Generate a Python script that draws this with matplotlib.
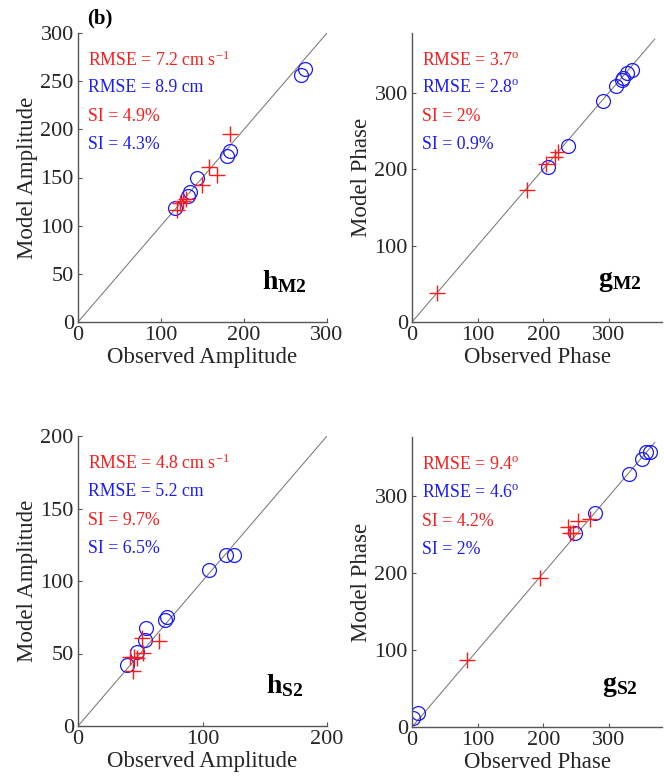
import numpy as np
import matplotlib
matplotlib.use('Agg')
import matplotlib.pyplot as plt

plt.rcParams['font.family'] = ['Liberation Serif', 'DejaVu Serif']
plt.rcParams['mathtext.fontset'] = 'custom'
plt.rcParams['mathtext.rm'] = 'Liberation Serif'
plt.rcParams['mathtext.bf'] = 'Liberation Serif:bold'
plt.rcParams['mathtext.it'] = 'Liberation Serif:italic'

# h_M2 : amplitude
hm2_red_obs = [123, 119, 127, 130, 149, 158, 167.5, 183]
hm2_red_mod = [124, 116, 126, 128, 142, 161, 153, 195]
hm2_blue_obs = [117, 132, 135, 143, 179, 183, 268.7, 273.5]
hm2_blue_mod = [118, 131, 135, 149, 172, 177, 256.5, 262.6]

# g_M2 : phase
gm2_red_obs = [38, 175.6, 204.6, 218, 223]
gm2_red_mod = [38, 172.5, 206.5, 216, 222]
gm2_blue_obs = [207.6, 238, 291.6, 311, 320, 322, 327, 336]
gm2_blue_mod = [202.6, 230, 289, 308.5, 316, 319, 325.5, 329]

# h_S2 : amplitude
hs2_red_obs = [41.8, 44, 45, 47.4, 51.4, 52.2, 65]
hs2_red_mod = [47.6, 38, 47.7, 46.9, 60.7, 50.3, 58.6]
hs2_blue_obs = [39.4, 47.4, 53.8, 54.6, 70, 71.3, 105, 119, 125.5]
hs2_blue_mod = [42, 51, 59.3, 67.6, 73, 75, 107.6, 118, 118]

# g_S2 : phase
gs2_red_obs = [84, 195, 238, 241, 246, 253, 272]
gs2_red_mod = [87, 194, 260, 252, 252, 268, 270]
gs2_blue_obs = [2, 9.4, 249, 279, 330, 350, 356, 363]
gs2_blue_mod = [11.5, 18, 252, 278, 328.6, 349, 357, 358]

panels = [
    dict(pos=(78, 33, 327, 322), lim=(300, 300), line=300,
         xt=[0, 100, 200, 300], yt=[0, 50, 100, 150, 200, 250, 300],
         xl='Observed Amplitude', yl='Model Amplitude', tag=r'$\mathbf{h_{M2}}$',
         red=(hm2_red_obs, hm2_red_mod), blue=(hm2_blue_obs, hm2_blue_mod),
         txt=[r'RMSE = 7.2 cm s$^{\mathrm{-1}}$', 'RMSE = 8.9 cm', 'SI = 4.9%', 'SI = 4.3%']),
    dict(pos=(412, 33, 662, 322), lim=(381, 378), line=370,
         xt=[0, 100, 200, 300], yt=[0, 100, 200, 300],
         xl='Observed Phase', yl='Model Phase', tag=r'$\mathbf{g_{M2}}$',
         red=(gm2_red_obs, gm2_red_mod), blue=(gm2_blue_obs, gm2_blue_mod),
         txt=[r'RMSE = 3.7$^{\mathrm{o}}$', r'RMSE = 2.8$^{\mathrm{o}}$', 'SI = 2%', 'SI = 0.9%']),
    dict(pos=(78, 436, 327, 726), lim=(200, 200), line=200,
         xt=[0, 100, 200], yt=[0, 50, 100, 150, 200],
         xl='Observed Amplitude', yl='Model Amplitude', tag=r'$\mathbf{h_{S2}}$',
         red=(hs2_red_obs, hs2_red_mod), blue=(hs2_blue_obs, hs2_blue_mod),
         txt=[r'RMSE = 4.8 cm s$^{\mathrm{-1}}$', 'RMSE = 5.2 cm', 'SI = 9.7%', 'SI = 6.5%']),
    dict(pos=(412, 437, 662, 727), lim=(381, 377), line=370,
         xt=[0, 100, 200, 300], yt=[0, 100, 200, 300],
         xl='Observed Phase', yl='Model Phase', tag=r'$\mathbf{g_{S2}}$',
         red=(gs2_red_obs, gs2_red_mod), blue=(gs2_blue_obs, gs2_blue_mod),
         txt=[r'RMSE = 9.4$^{\mathrm{o}}$', r'RMSE = 4.6$^{\mathrm{o}}$', 'SI = 4.2%', 'SI = 2%']),
]

W, H = 664, 782
fig = plt.figure(figsize=(W / 100, H / 100), dpi=100)

for p in panels:
    l, t, r, b = p['pos']
    ax = fig.add_axes([l / W, (H - b) / H, (r - l) / W, (b - t) / H])
    ax.plot([0, p['line']], [0, p['line']], color='#808080', lw=0.8, zorder=1)
    ax.plot(*p['red'], '+', color='#ff1a1a', ms=11, mew=1.0, ls='none', zorder=3)
    ax.plot(*p['blue'], 'o', mfc='none', mec='#1a1aff', ms=10, mew=0.9, ls='none', zorder=2)
    ax.set_xlim(0, p['lim'][0]); ax.set_ylim(0, p['lim'][1])
    ax.set_xticks(p['xt']); ax.set_yticks(p['yt'])
    for s in ['top', 'right']:
        ax.spines[s].set_visible(False)
    for s in ['left', 'bottom']:
        ax.spines[s].set_color('#555555'); ax.spines[s].set_linewidth(1.0)
    ax.tick_params(direction='in', length=3, color='#555555', labelsize=16,
                   labelcolor='#262626', pad=3)
    ax.set_xlabel(p['xl'], fontsize=16.5, color='#262626', labelpad=1)
    ax.set_ylabel(p['yl'], fontsize=16.5, color='#262626', labelpad=2)
    for txt, y, c in zip(p['txt'], [0.905, 0.81, 0.71, 0.613],
                         ['#ff1a1a', '#1a1aff', '#ff1a1a', '#1a1aff']):
        ax.text(0.04, y, txt, transform=ax.transAxes, color=c, fontsize=12.8,
                ha='left', va='center')
    ax.text(0.83, 0.14, p['tag'], transform=ax.transAxes, fontsize=20,
            ha='center', va='center', color='black')

fig.text(100 / W, 1 - 18 / H, '(b)', fontsize=15, fontweight='bold',
         ha='center', va='center')

fig.savefig('out.png', dpi=100)
